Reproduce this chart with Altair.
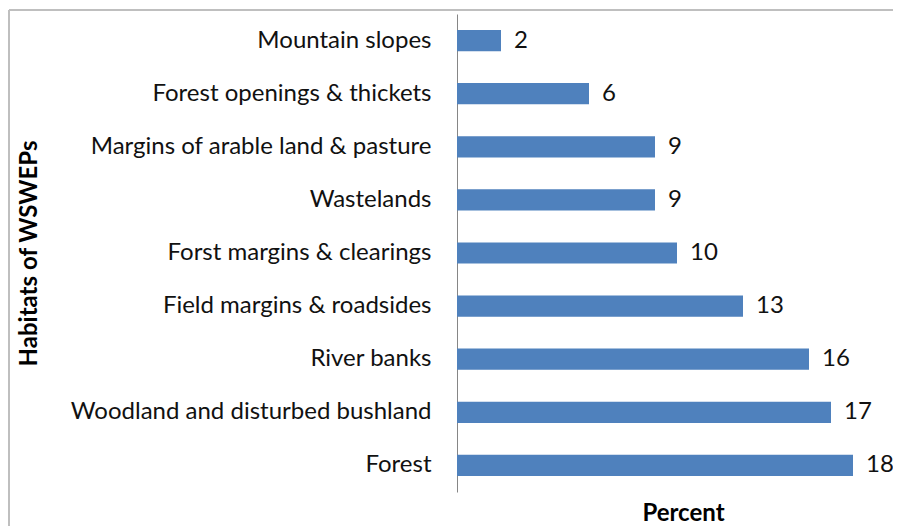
import altair as alt
import pandas as pd

habitats = [
    "Mountain slopes",
    "Forest openings & thickets",
    "Margins of arable land & pasture",
    "Wastelands",
    "Forst margins & clearings",
    "Field margins & roadsides",
    "River banks",
    "Woodland and disturbed bushland\u00a0",
    "Forest\u00a0",
]
percents = [2, 6, 9, 9, 10, 13, 16, 17, 18]

df = pd.DataFrame({"habitat": habitats, "percent": percents})

FONT = "Lato"
FS = 24

x_enc = alt.X(
    "percent:Q",
    scale=alt.Scale(domain=[0, 20], range=[0, 440], nice=False),
    axis=alt.Axis(
        title="Percent", labels=False, ticks=False, domain=False, grid=False,
        titleX=226, titleY=28, titleBaseline="alphabetic", titleAlign="center",
        titleFont=FONT, titleFontSize=FS, titleFontWeight="bold", titleColor="#000000",
    ),
)
y_enc = alt.Y(
    "habitat:N", sort=None,
    scale=alt.Scale(paddingInner=0.6, paddingOuter=0.3),
    axis=alt.Axis(
        title="Habitats of WSWEPs", ticks=False, labelPadding=26, labelLimit=0,
        domainColor="#868686", domainWidth=1, grid=False,
        labelFont=FONT, labelFontSize=FS, labelColor="#111111",
        titleX=-428, titleY=239, titleAngle=-90, titleAlign="center", titleBaseline="middle",
        titleFont=FONT, titleFontSize=FS, titleFontWeight="bold", titleColor="#000000",
    ),
)

base = alt.Chart(df)
bars = base.mark_bar(color="#4F81BD").encode(x=x_enc, y=y_enc)
labels = base.mark_text(align="left", baseline="middle", dx=13, font=FONT, fontSize=FS, color="#111111").encode(
    x="percent:Q", y=alt.Y("habitat:N", sort=None), text="percent:Q"
)

border_top = alt.Chart(df).mark_rule(color="#BFBFBF", strokeWidth=2).encode(
    x=alt.value(-448), x2=alt.value(450), y=alt.value(-4)
)
border_left = alt.Chart(df).mark_rule(color="#BFBFBF", strokeWidth=2).encode(
    x=alt.value(-448), y=alt.value(-4), y2=alt.value(520)
)

chart = alt.layer(border_top, border_left, bars, labels).properties(
    width=436, height=478,
    padding={"left": 449, "top": 6, "right": 0, "bottom": 34},
    autosize="none",
).configure_view(strokeWidth=0)

chart.save("out.html", embed_options={"renderer": "svg", "actions": False})
